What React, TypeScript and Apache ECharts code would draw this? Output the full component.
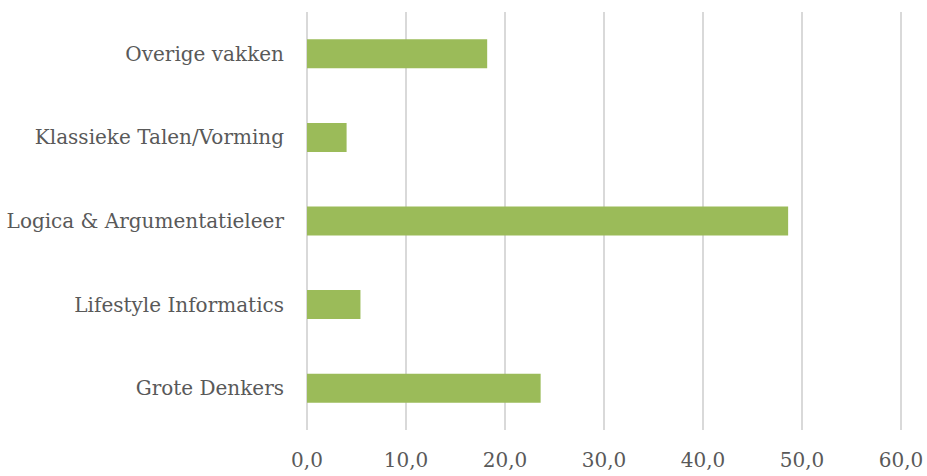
import React, { useEffect, useRef } from "react";
import * as echarts from "echarts";

const categories = [
  "Grote Denkers",
  "Lifestyle Informatics",
  "Logica & Argumentatieleer",
  "Klassieke Talen/Vorming",
  "Overige vakken",
];
const values = [23.6, 5.4, 48.6, 4.0, 18.2];
const xTicks = { min: 0, max: 60, interval: 10 };

export default function App() {
  const ref = useRef<HTMLDivElement>(null);
  useEffect(() => {
    if (!ref.current) return;
    const chart = echarts.init(ref.current, undefined, { renderer: "svg" });
    const font = "'DejaVu Serif', serif";
    chart.setOption({
      animation: false,
      backgroundColor: "#ffffff",
      grid: { left: 307, right: 26, top: 12, bottom: 46, containLabel: false },
      xAxis: {
        type: "value",
        min: xTicks.min,
        max: xTicks.max,
        interval: xTicks.interval,
        axisLine: { show: false },
        axisTick: { show: false },
        splitLine: { show: true, lineStyle: { color: "#d9d9d9", width: 2 } },
        axisLabel: {
          color: "#595959",
          fontFamily: font,
          fontSize: 20,
          margin: 20,
          formatter: (v: number) => v.toFixed(1).replace(".", ","),
        },
      },
      yAxis: {
        type: "category",
        data: categories,
        axisLine: { show: false },
        axisTick: { show: false },
        axisLabel: {
          color: "#595959",
          fontFamily: font,
          fontSize: 20,
          margin: 23,
        },
      },
      series: [
        {
          type: "bar",
          data: values,
          barWidth: 29,
          itemStyle: { color: "#9bbb59" },
        },
      ],
    });
    return () => chart.dispose();
  }, []);
  return (
    <div
      ref={ref}
      style={{ position: "absolute", left: 0, top: 0, width: 927, height: 476 }}
    />
  );
}
